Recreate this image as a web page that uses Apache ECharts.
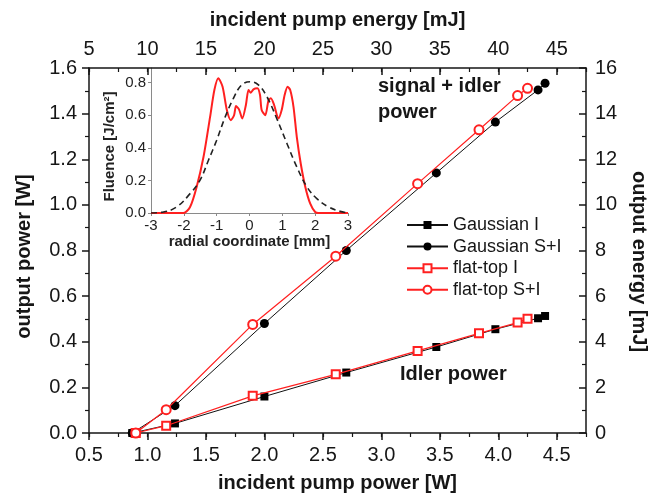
<!DOCTYPE html>
<html>
<head>
<meta charset="utf-8">
<script src="https://cdn.jsdelivr.net/npm/echarts@6/dist/echarts.min.js"></script>
<style>html,body{margin:0;padding:0;background:#fff;}#c{width:659px;height:498px;}</style>
</head>
<body>
<div id="c"></div>
<script>
// Main data: incident pump power [W] and output power [W]
const gaussPump  = [0.87, 1.235, 2.00, 2.70, 3.47, 3.975, 4.34, 4.40];
const gaussIdler = [0, 0.042, 0.160, 0.265, 0.377, 0.455, 0.503, 0.513];
const gaussSI    = [0, 0.120, 0.480, 0.800, 1.140, 1.363, 1.504, 1.533];
const flatPump   = [0.90, 1.16, 1.90, 2.61, 3.31, 3.835, 4.165, 4.25];
const flatIdler  = [0, 0.032, 0.163, 0.257, 0.360, 0.437, 0.484, 0.501];
const flatSI     = [0, 0.102, 0.476, 0.775, 1.093, 1.329, 1.479, 1.511];
const seriesNames = ['Gaussian I', 'Gaussian S+I', 'flat-top I', 'flat-top S+I'];

// Inset data: radial coordinate [mm] and fluence [J/cm^2]
const radialFlat  = [-3, -2.01, -1.81, -1.61, -1.40, -1.20, -1.07, -0.95, -0.82, -0.69, -0.57, -0.47, -0.41, -0.32, -0.22, -0.11, -0.03, 0.04, 0.12, 0.24, 0.32, 0.37, 0.48, 0.58, 0.65, 0.75, 0.88, 0.98, 1.07, 1.16, 1.24, 1.34, 1.44, 1.56, 1.70, 1.85, 2.00, 2.10, 3];
const fluenceFlat = [0, 0, 0.037, 0.16, 0.345, 0.59, 0.755, 0.827, 0.775, 0.632, 0.570, 0.60, 0.656, 0.636, 0.58, 0.663, 0.755, 0.738, 0.759, 0.765, 0.724, 0.632, 0.60, 0.693, 0.704, 0.663, 0.58, 0.632, 0.724, 0.775, 0.755, 0.652, 0.468, 0.304, 0.16, 0.057, 0.006, 0, 0];
const radialGauss  = [-3, -2.62, -2.22, -1.81, -1.51, -1.25, -1.0, -0.74, -0.49, -0.24, 0.02, 0.27, 0.53, 0.83, 1.14, 1.44, 1.75, 2.05, 2.41, 2.76, 3];
const fluenceGauss = [0, 0.006, 0.037, 0.119, 0.20, 0.324, 0.447, 0.59, 0.704, 0.786, 0.806, 0.786, 0.714, 0.58, 0.427, 0.283, 0.16, 0.088, 0.037, 0.01, 0];

const FONT = 'Liberation Sans, Arial, sans-serif';
const INK = '#161616';
const RED = '#ff2020';
const GRAY = '#8a8a8a';

function zip(a, b) { return a.map((v, i) => [v, b[i]]); }

const chart = echarts.init(document.getElementById('c'), null, {renderer: 'canvas'});

const mainLine = {lineStyle: {color: INK, width: 1.5}};
const option = {
  backgroundColor: '#fff',
  animation: false,
  textStyle: {fontFamily: FONT, color: INK},
  grid: [
    {left: 89, right: 73, top: 68, bottom: 64},
    {left: 151, top: 68, width: 197, height: 145}
  ],
  xAxis: [
    {gridIndex: 0, type: 'value', position: 'bottom', min: 0.5, max: 4.75, interval: 0.5,
     axisLine: {show: true, onZero: false, ...mainLine},
     axisTick: {show: true, inside: false, length: 7, lineStyle: {color: INK, width: 1.5}},
     axisLabel: {fontSize: 20, color: INK, margin: 12, showMaxLabel: false, formatter: v => v.toFixed(1)},
     splitLine: {show: false},
     name: 'incident pump power [W]', nameLocation: 'middle', nameGap: 40,
     nameTextStyle: {fontSize: 20, fontWeight: 'bold', color: INK}},
    {gridIndex: 0, type: 'value', position: 'top', min: 5, max: 47.5, interval: 5,
     axisLine: {show: true, onZero: false, ...mainLine},
     axisTick: {show: true, inside: true, length: 7, lineStyle: {color: INK, width: 1.5}},
     axisLabel: {fontSize: 20, color: INK, margin: 9, showMaxLabel: false},
     splitLine: {show: false},
     name: 'incident pump energy [mJ]', nameLocation: 'middle', nameGap: 38,
     nameTextStyle: {fontSize: 20, fontWeight: 'bold', color: INK}},
    {gridIndex: 0, type: 'value', position: 'bottom', min: 0.5, max: 4.75, interval: 0.25,
     axisLine: {show: false, onZero: false}, axisLabel: {show: false}, splitLine: {show: false},
     axisTick: {show: true, inside: false, length: 4, lineStyle: {color: INK, width: 1.2}}},
    {gridIndex: 0, type: 'value', position: 'top', min: 5, max: 47.5, interval: 2.5,
     axisLine: {show: false, onZero: false}, axisLabel: {show: false}, splitLine: {show: false},
     axisTick: {show: true, inside: true, length: 4, lineStyle: {color: INK, width: 1.2}}},
    {gridIndex: 1, type: 'value', position: 'bottom', min: -3, max: 3, interval: 1,
     axisLine: {show: true, onZero: false, lineStyle: {color: GRAY, width: 1}},
     axisTick: {show: true, inside: false, length: 3, lineStyle: {color: GRAY}},
     axisLabel: {fontSize: 15, color: '#222', margin: 5},
     splitLine: {show: false},
     name: 'radial coordinate [mm]', nameLocation: 'middle', nameGap: 20,
     nameTextStyle: {fontSize: 15, fontWeight: 'bold', color: '#222'}}
  ],
  yAxis: [
    {gridIndex: 0, type: 'value', position: 'left', min: 0, max: 1.6, interval: 0.2,
     axisLine: {show: true, onZero: false, ...mainLine},
     axisTick: {show: true, inside: false, length: 7, lineStyle: {color: INK, width: 1.5}},
     minorTick: {show: true, splitNumber: 2, length: 4, lineStyle: {color: INK, width: 1.2}},
     axisLabel: {fontSize: 20, color: INK, margin: 12, formatter: v => v.toFixed(1)},
     splitLine: {show: false},
     name: 'output power [W]', nameLocation: 'middle', nameGap: 55,
     nameTextStyle: {fontSize: 20, fontWeight: 'bold', color: INK, padding: [0, 12, 0, 0]}},
    {gridIndex: 0, type: 'value', position: 'right', min: 0, max: 16, interval: 2,
     axisLine: {show: true, onZero: false, ...mainLine},
     axisTick: {show: true, inside: true, length: 7, lineStyle: {color: INK, width: 1.5}},
     minorTick: {show: true, splitNumber: 2, length: 4, lineStyle: {color: INK, width: 1.2}},
     axisLabel: {fontSize: 20, color: INK, margin: 9},
     splitLine: {show: false},
     name: 'output energy [mJ]', nameLocation: 'middle', nameGap: 40, nameRotate: -90,
     nameTextStyle: {fontSize: 20, fontWeight: 'bold', color: INK, padding: [0, 0, 0, 22]}},
    {gridIndex: 1, type: 'value', position: 'left', min: 0, max: 0.89, interval: 0.2,
     axisLine: {show: true, onZero: false, lineStyle: {color: GRAY, width: 1}},
     axisTick: {show: true, inside: false, length: 3, lineStyle: {color: GRAY}},
     axisLabel: {fontSize: 15, color: '#222', margin: 5, showMaxLabel: false, formatter: v => v.toFixed(1)},
     splitLine: {show: false},
     name: 'Fluence [J/cm²]', nameLocation: 'middle', nameGap: 34,
     nameTextStyle: {fontSize: 15, fontWeight: 'bold', color: '#222', padding: [0, 12, 0, 0]}}
  ],
  legend: {
    orient: 'vertical', left: 401, top: 211, itemWidth: 41, itemHeight: 10, itemGap: 3.6,
    data: seriesNames,
    textStyle: {fontSize: 18, color: INK, fontFamily: FONT, padding: [0, 0, 0, 0]}
  },
  series: [
    {name: seriesNames[0], type: 'line', xAxisIndex: 0, yAxisIndex: 0, data: zip(gaussPump, gaussIdler),
     symbol: 'rect', symbolSize: 8, lineStyle: {color: '#111', width: 1}, itemStyle: {color: '#000'}, z: 3},
    {name: seriesNames[1], type: 'line', xAxisIndex: 0, yAxisIndex: 0, data: zip(gaussPump, gaussSI),
     symbol: 'circle', symbolSize: 9, lineStyle: {color: '#111', width: 1}, itemStyle: {color: '#000'}, z: 3},
    {name: seriesNames[2], type: 'line', xAxisIndex: 0, yAxisIndex: 0, data: zip(flatPump, flatIdler),
     symbol: 'emptyRect', symbolSize: 8, lineStyle: {color: RED, width: 1.2}, itemStyle: {color: RED, borderWidth: 1}, z: 4},
    {name: seriesNames[3], type: 'line', xAxisIndex: 0, yAxisIndex: 0, data: zip(flatPump, flatSI),
     symbol: 'emptyCircle', symbolSize: 9, lineStyle: {color: RED, width: 1.2}, itemStyle: {color: RED, borderWidth: 1}, z: 4},
    {name: 'flat-top profile', type: 'line', xAxisIndex: 4, yAxisIndex: 2, data: zip(radialFlat, fluenceFlat),
     showSymbol: false, symbol: 'none', smooth: 0.25, lineStyle: {color: RED, width: 2}},
    {name: 'Gaussian profile', type: 'line', xAxisIndex: 4, yAxisIndex: 2, data: zip(radialGauss, fluenceGauss),
     showSymbol: false, symbol: 'none', smooth: 0.4, lineStyle: {color: '#222', width: 1.6, type: [6, 4]}}
  ],
  graphic: [
    {type: 'text', left: 378, top: 76, style: {text: 'signal + idler', font: 'bold 20px ' + FONT, fill: INK}},
    {type: 'text', left: 378, top: 102, style: {text: 'power', font: 'bold 20px ' + FONT, fill: INK}},
    {type: 'text', left: 400, top: 364, style: {text: 'Idler power', font: 'bold 20px ' + FONT, fill: INK}}
  ]
};
chart.setOption(option);
</script>
</body>
</html>
